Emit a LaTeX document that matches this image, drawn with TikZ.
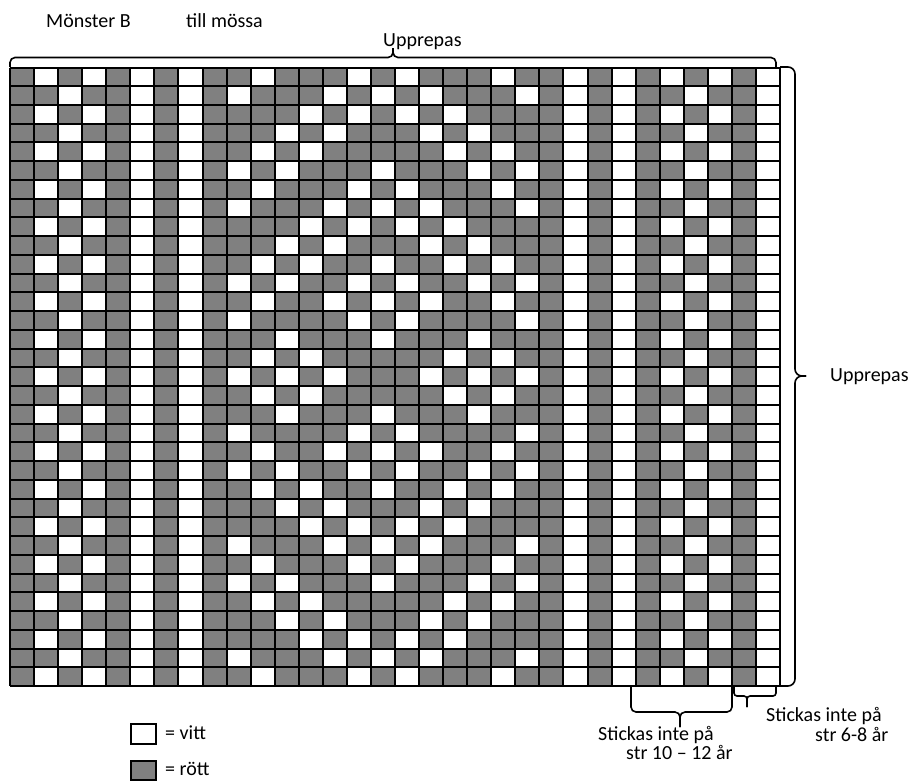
\documentclass[tikz,border=0pt]{standalone}
\usepackage{fontspec}
\setmainfont{Carlito}
\definecolor{cellgray}{HTML}{808080}
\begin{document}
\begin{tikzpicture}[x=1pt,y=-1pt,
  gridline/.style={line width=2pt,black},
  bracel/.style={line width=1.6pt,black,rounded corners=5pt},
  txt/.style={font=\fontsize{20}{24}\selectfont,inner sep=0pt,anchor=base west},
  legendbox/.style={draw=black,line width=2pt}]
\useasboundingbox (0,0) rectangle (924,780);
\def\cw{24.0625}
\def\ch{18.742}
% grid
\coordinate (gridNW) at (10,67.5);
\coordinate (gridSE) at (780,686);
\fill[cellgray] (gridNW) rectangle (gridSE);
\foreach \r/\cs in {
  0/{1,3,5,7,10,14,16,20,23,25,27,29,31},
  1/{2,5,7,9,13,15,17,21,23,25,28,31},
  2/{1,3,5,7,12,14,16,18,23,25,27,29,31},
  3/{2,5,7,11,13,17,19,23,25,28,31},
  4/{1,3,5,7,10,12,18,20,23,25,27,29,31},
  5/{2,5,7,9,11,15,19,21,23,25,28,31},
  6/{1,3,5,7,10,14,16,20,23,25,27,29,31},
  7/{2,5,7,9,13,15,17,21,23,25,28,31},
  8/{1,3,5,7,12,14,16,18,23,25,27,29,31},
  9/{2,5,7,11,13,17,19,23,25,28,31},
  10/{1,3,5,7,10,12,15,18,20,23,25,27,29,31},
  11/{2,5,7,9,11,14,16,19,21,23,25,28,31},
  12/{1,3,5,7,10,13,15,17,20,23,25,27,29,31},
  13/{2,5,7,9,14,16,21,23,25,28,31},
  14/{1,3,5,7,11,15,19,23,25,27,29,31},
  15/{2,5,7,10,12,18,20,23,25,28,31},
  16/{1,3,5,7,9,11,13,17,19,21,23,25,27,29,31}} {
  \foreach \c in \cs {
    \fill[white] ({10+\c*\cw},{67.5+\r*\ch}) rectangle ++(\cw,\ch);
    \fill[white] ({10+\c*\cw},{67.5+(32-\r)*\ch}) rectangle ++(\cw,\ch);
  }
}
\foreach \c in {0,...,32} \draw[gridline] ({10+\c*\cw},67.5) -- ({10+\c*\cw},686);
\foreach \r in {0,...,33} \draw[gridline] (10,{67.5+\r*\ch}) -- (780,{67.5+\r*\ch});
% top brace
\coordinate (tbL) at (10,67);
\coordinate (tbR) at (776,67);
\coordinate (tbTip) at (393,48);
\draw[bracel] (tbL) -- (10,57.5) -- (393,57.5) -- (tbTip);
\draw[bracel] (tbR) -- (776,57.5) -- (393,57.5) -- (tbTip);
% right brace
\coordinate (rbT) at (780,67);
\coordinate (rbB) at (780,686);
\coordinate (rbTip) at (806,376);
\draw[bracel,rounded corners=7pt] (rbT) -- (795,67) -- (795,376) -- (rbTip);
\draw[bracel,rounded corners=7pt] (rbB) -- (795,686) -- (795,376) -- (rbTip);
% bottom brace 1
\coordinate (b1L) at (631,687);
\coordinate (b1R) at (732,687);
\coordinate (b1Tip) at (680,727);
\draw[bracel] (b1L) -- (631,712) -- (680,712) -- (b1Tip);
\draw[bracel] (b1R) -- (732,712) -- (680,712) -- (b1Tip);
% bottom brace 2
\coordinate (b2L) at (734,687);
\coordinate (b2R) at (776,687);
\coordinate (b2Tip) at (747,707);
\draw[bracel,rounded corners=3pt] (b2L) -- (734,696) -- (747,696) -- (b2Tip);
\draw[bracel,rounded corners=3pt] (b2R) -- (776,696) -- (747,696) -- (b2Tip);
% texts
\node[txt] (title1) at (46,27) {Mönster B};
\node[txt] (title2) at (186,27) {till mössa};
\node[txt] (uptop) at (383,46) {Upprepas};
\node[txt] (upright) at (830,381) {Upprepas};
\node[txt] (s1a) at (598,740) {Stickas inte på};
\node[txt] (s1b) at (626,759) {str 10 – 12 år};
\node[txt] (s2a) at (766,721) {Stickas inte på};
\node[txt] (s2b) at (815,741) {str 6-8 år};
% legend
\node[legendbox,fill=white,minimum width=25pt,minimum height=20pt,inner sep=0pt,anchor=north west] (lw) at (130,723) {};
\node[legendbox,fill=cellgray,minimum width=25pt,minimum height=19pt,inner sep=0pt,anchor=north west] (lg) at (130,760) {};
\node[txt] (lwt) at (165,739) {= vitt};
\node[txt] (lgt) at (165,775) {= rött};
\end{tikzpicture}
\end{document}
